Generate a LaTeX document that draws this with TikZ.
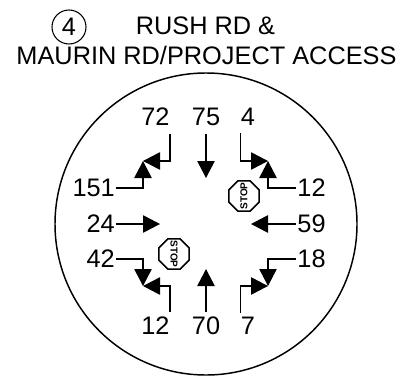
\documentclass[tikz,border=0pt]{standalone}
\usepackage{fontspec}
\setmainfont{Liberation Sans}
\usetikzlibrary{arrows.meta, shapes.geometric}

\begin{document}
\begin{tikzpicture}[
            x=0.75pt, y=-0.75pt,
            title/.style={inner sep=0pt, font=\fontsize{19pt}{22pt}\selectfont},
            toplab/.style={title, inner ysep=6pt},
            botlab/.style={title, inner ysep=3pt},
            sidelab/.style={title, inner xsep=1pt},
            move/.style={line width=1.1pt, -{Triangle[length=12.75pt, width=13pt]}},
            stopsign/.style={regular polygon, regular polygon sides=8, draw, line width=1.1pt, minimum size=24.4pt, inner sep=0pt, font=\fontsize{7.5pt}{8pt}\selectfont\bfseries}
        ]
            \useasboundingbox (0,0) rectangle (402,385);

            % --- title ---
            \node[title] (road1) at (205.5,25.5) {RUSH RD \&};
            \node[title] (road2) at (206.5,55.5) {MAURIN RD/PROJECT ACCESS};
            \node[title, circle, draw, line width=0.8pt, minimum size=25.5pt] (number) at (69,27) {4};

            % --- intersection ---
            \node[circle, draw, line width=1.1pt, minimum size=226.5pt, inner sep=0pt] (ring) at (206,224) {};
            \node[stopsign, rotate=90] (stop1) at (244,196) {\makebox[0pt]{STOP}};
            \node[stopsign, rotate=-90] (stop2) at (174,254) {\makebox[0pt]{STOP}};

            % --- volumes ---
            \node[toplab] (nbl) at (155.5,116.5) {72};
            \node[toplab] (nbt) at (206,116.5) {75};
            \node[toplab] (nbr) at (248,116.5) {4};
            \node[sidelab] (wbl) at (93.7,188) {151};
            \node[sidelab] (wbt) at (100.7,224) {24};
            \node[sidelab] (wbr) at (100.7,259) {42};
            \node[sidelab] (ebr) at (311.5,188) {12};
            \node[sidelab] (ebt) at (311.5,224) {59};
            \node[sidelab] (ebl) at (311.5,259) {18};
            \node[botlab] (sbl) at (155.5,325.5) {12};
            \node[botlab] (sbt) at (206,325.5) {70};
            \node[botlab] (sbr) at (248,325.5) {7};

            \coordinate (tipnw) at (143,161);
            \coordinate (tipne) at (268,161);
            \coordinate (tipsw) at (143,286);
            \coordinate (tipse) at (268,286);
            \coordinate (tipn) at (206,178);
            \coordinate (tips) at (206,269);
            \coordinate (tipw) at (160,224);
            \coordinate (tipe) at (251,224);

            % --- movements ---
            \draw[move] (nbl.south east) |- (tipnw);
            \draw[move] (wbl.east) -| (tipnw);
            \draw[move] (nbt.south) -- (tipn);
            \draw[move] (nbr.south west) |- (tipne);
            \draw[move] (ebr.west) -| (tipne);
            \draw[move] (wbt.east) -- (tipw);
            \draw[move] (ebt.west) -- (tipe);
            \draw[move] (wbr.east) -| (tipsw);
            \draw[move] (sbl.north east) |- (tipsw);
            \draw[move] (sbt.north) -- (tips);
            \draw[move] (sbr.north west) |- (tipse);
            \draw[move] (ebl.west) -| (tipse);
        \end{tikzpicture}
\end{document}
